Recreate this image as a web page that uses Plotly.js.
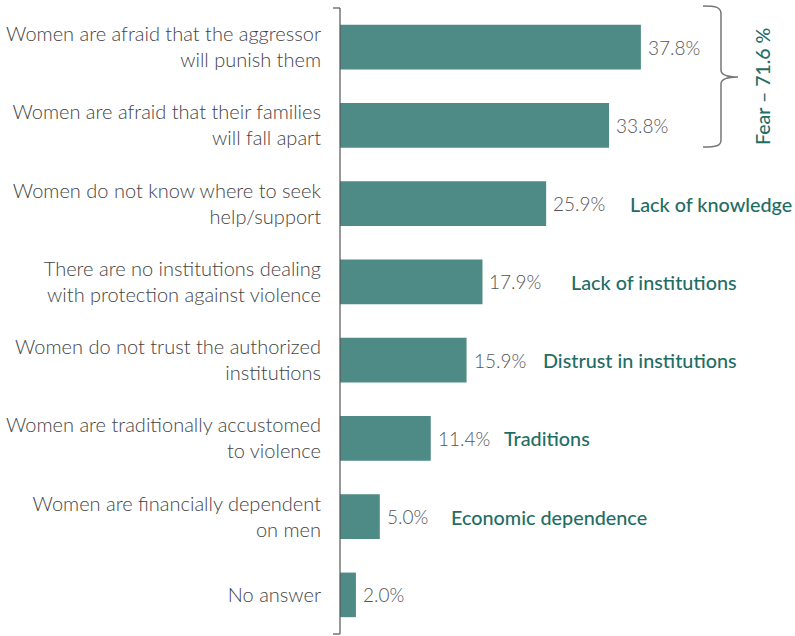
<!DOCTYPE html>
<html><head><meta charset="utf-8">
<script src="https://cdn.plot.ly/plotly-3.0.1.min.js"></script>
<style>html,body{margin:0;padding:0;background:#fff}</style>
</head><body><div id="chart" style="width:795px;height:636px"></div>
<script>
const categories = [
  "Women are afraid that the aggressor<br>will punish them",
  "Women are afraid that their families<br>will fall apart",
  "Women do not know where to seek<br>help/support",
  "There are no institutions dealing<br>with protection against violence",
  "Women do not trust the authorized<br>institutions",
  "Women are traditionally accustomed<br>to violence",
  "Women are financially dependent<br>on men",
  "No answer"
];
const values = [37.8, 33.8, 25.9, 17.9, 15.9, 11.4, 5.0, 2.0];
const groupLabels = ["", "", "Lack of knowledge", "Lack of institutions", "Distrust in institutions", "Traditions", "Economic dependence", ""];
const fearLabel = "Fear – 71.6 %";

const W = 795, H = 636, L = 340, T = 8, B = 2, R = 0;
const pw = W - L - R, ph = H - T - B;
const px = x => (x - L) / pw;
const py = y => 1 - (y - T) / ph;
const pxPerUnit = 7.96;
const xmax = pw / pxPerUnit;
const teal = "#1f6d65";
const labelOffsets = [0, 0, 84, 89, 76, 73, 71, 0];

const annotations = [];
values.forEach((v, i) => {
  annotations.push({
    x: v, y: categories[i], xref: "x", yref: "y",
    text: v.toFixed(1) + "%", showarrow: false, xanchor: "left", yanchor: "middle", xshift: 5,
    font: {family: "Lato", size: 19, color: "#555", weight: 300}
  });
});
groupLabels.forEach((g, i) => {
  if (!g) return;
  annotations.push({
    x: values[i] + labelOffsets[i] / pxPerUnit, y: categories[i], xref: "x", yref: "y",
    text: g, showarrow: false, xanchor: "left", yanchor: "middle", xshift: -2,
    font: {family: "Lato", size: 19.8, color: teal, weight: 500}
  });
});
annotations.push({
  x: px(762), y: py(87), xref: "paper", yref: "paper", text: fearLabel, showarrow: false,
  textangle: -90, xanchor: "center", yanchor: "middle",
  font: {family: "Lato", size: 19.5, color: teal, weight: 500}
});

// brace path (paper coords)
const P = (x, y) => px(x).toFixed(5) + "," + py(y).toFixed(5);
const brace = "M" + P(703, 6) + " C" + P(716, 6) + " " + P(721, 7) + " " + P(721, 14) +
  " L" + P(721, 70) + " C" + P(721, 75) + " " + P(726, 77) + " " + P(738, 77) +
  " C" + P(726, 77) + " " + P(721, 79) + " " + P(721, 84) +
  " L" + P(721, 140) + " C" + P(721, 146) + " " + P(716, 147) + " " + P(703, 147);

const shapes = [
  {type: "path", xref: "paper", yref: "paper", path: brace, line: {color: "#777", width: 1.5}},
  {type: "line", xref: "paper", yref: "paper", x0: 0, x1: 0, y0: 0, y1: 1, line: {color: "#555", width: 1.2}},
  {type: "line", xref: "paper", yref: "paper", x0: px(333), x1: 0, y0: 1, y1: 1, line: {color: "#555", width: 1.2}},
  {type: "line", xref: "paper", yref: "paper", x0: px(333), x1: 0, y0: 0, y1: 0, line: {color: "#555", width: 1.2}}
];

Plotly.newPlot("chart", [{
  type: "bar", orientation: "h", x: values, y: categories,
  marker: {color: "#4e8a86", line: {width: 0}},
  cliponaxis: false, hoverinfo: "skip"
}], {
  width: W, height: H, margin: {l: L, r: R, t: T, b: B},
  paper_bgcolor: "#fff", plot_bgcolor: "#fff",
  showlegend: false, bargap: 0.43,
  xaxis: {range: [0, xmax], visible: false, fixedrange: true},
  yaxis: {autorange: "reversed", type: "category", showline: false, showgrid: false, zeroline: false,
    ticks: "", ticklabelstandoff: 18,
    tickfont: {family: "Lato", size: 20, color: "#444", weight: 300}},
  annotations: annotations, shapes: shapes,
  font: {family: "Lato"}
}, {staticPlot: true});
</script></body></html>
